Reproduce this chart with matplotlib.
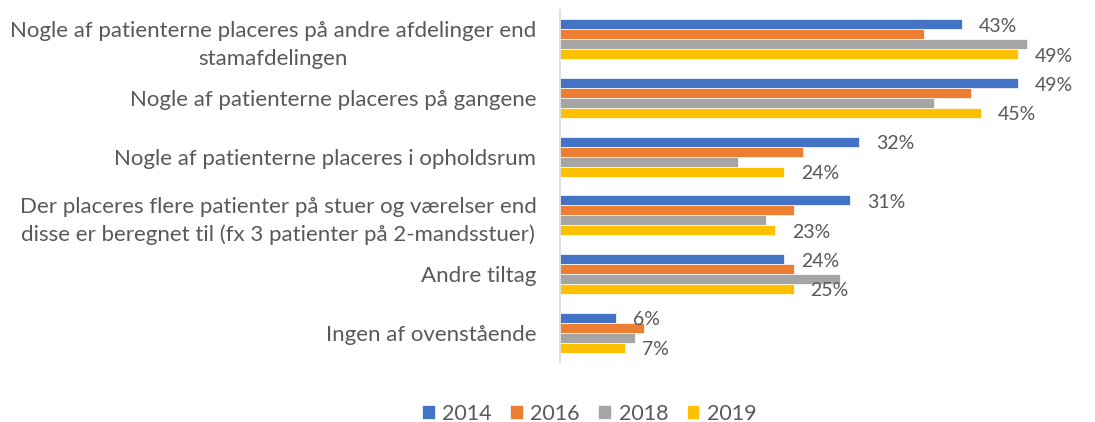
import matplotlib.pyplot as plt
import numpy as np

plt.rcParams['font.family'] = ['Lato', 'DejaVu Sans']

# Data (percent)
categories = [
    "Nogle af patienterne placeres på andre afdelinger end\nstamafdelingen",
    "Nogle af patienterne placeres på gangene",
    "Nogle af patienterne placeres i opholdsrum",
    "Der placeres flere patienter på stuer og værelser end\ndisse er beregnet til (fx 3 patienter på 2-mandsstuer)",
    "Andre tiltag",
    "Ingen af ovenstående",
]
years = ["2014", "2016", "2018", "2019"]
values_2014 = [43, 49, 32, 31, 24, 6]
values_2016 = [39, 44, 26, 25, 25, 9]
values_2018 = [50, 40, 19, 22, 30, 8]
values_2019 = [49, 45, 24, 23, 25, 7]

COLORS = ["#4472C4", "#ED7D31", "#A5A5A5", "#FFC000"]
TEXT = "#595959"


def main():
    series = [values_2014, values_2016, values_2018, values_2019]
    labelled = [True, False, False, True]

    fig = plt.figure(figsize=(10.95, 4.22), dpi=100)
    ax = fig.add_axes([560 / 1095, 60 / 422, 514 / 1095, 352 / 422])

    y = np.arange(len(categories))
    h = 0.17
    for i, (vals, year) in enumerate(zip(series, years)):
        pos = y + (i - 1.5) * h
        bars = ax.barh(pos, vals, height=h, color=COLORS[i], label=year,
                       edgecolor="white", linewidth=0.5)
        if labelled[i]:
            for b, v in zip(bars, vals):
                ax.annotate(f"{v}%", (b.get_width(), b.get_y() + h / 2),
                            xytext=(17, -2), textcoords="offset pixels",
                            ha="left", va="center", fontsize=14, color=TEXT)

    ax.set_xlim(0, 55)
    ax.set_ylim(len(categories) - 0.5, -0.5)
    ax.set_yticks(y)
    ax.set_yticklabels(categories, fontsize=16, color=TEXT, multialignment="center",
                       linespacing=1.45)
    ax.tick_params(axis="y", length=0, pad=17)
    ax.set_xticks([])
    for side in ["top", "right", "bottom"]:
        ax.spines[side].set_visible(False)
    ax.spines["left"].set_color("#D9D9D9")
    ax.spines["left"].set_linewidth(1.2)

    fig.legend(loc="center", bbox_to_anchor=(0.538, 0.02), ncol=4, frameon=False,
               fontsize=15.5, handlelength=0.6, handleheight=0.6, handletextpad=0.35,
               columnspacing=0.85, labelcolor=TEXT)

    fig.savefig("out.png", dpi=100)


if __name__ == "__main__":
    main()
